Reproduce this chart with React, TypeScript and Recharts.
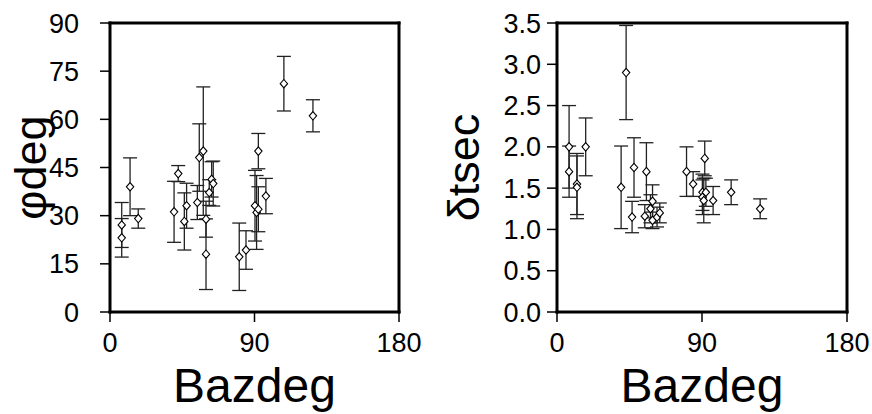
import React from 'react';
import { ScatterChart, Scatter, XAxis, YAxis, ErrorBar } from 'recharts';

const bazTicks = [0, 90, 180];
const phiTicks = [0, 15, 30, 45, 60, 75, 90];
const dtTicks = [0, 0.5, 1, 1.5, 2, 2.5, 3, 3.5];

// Left panel: fast-axis direction (deg) vs back azimuth
const phiBaz = [7.3, 7.3, 12.5, 17.6, 39.9, 42.5, 46.3, 47.7, 54.4, 55.6, 58.1, 59.8, 59.8, 61.8, 63.3, 64.3, 80.5, 84.7, 90.3, 91.3, 92.4, 92.4, 97.1, 108.3, 126.4];
const phiVal = [27.1, 23.1, 39.0, 29.1, 31.2, 43.1, 28.2, 33.1, 34.1, 48.1, 50.1, 28.9, 18.0, 37.2, 41.3, 40.0, 17.2, 19.3, 33.1, 31.0, 32.0, 50.1, 36.1, 71.1, 61.1];
const phiErr = [7, 6, 9, 3, 9.5, 2.5, 8.9, 7, 5.3, 10.5, 20, 5.6, 11, 4, 5.5, 7, 10.5, 6, 11, 11.5, 7, 5.5, 5.5, 8.5, 5];

// Right panel: delay time (s) vs back azimuth
const dtBaz = [7.5, 7.5, 12.4, 12.4, 17.8, 39.8, 42.9, 46.6, 47.8, 54.5, 55.5, 58.0, 59.3, 59.3, 62.1, 63.8, 80.4, 84.5, 90.3, 90.3, 91.1, 91.7, 92.4, 96.9, 108.1, 126.1];
const dtVal = [2.0, 1.7, 1.55, 1.51, 2.0, 1.51, 2.9, 1.15, 1.75, 1.16, 1.7, 1.25, 1.34, 1.11, 1.15, 1.2, 1.7, 1.55, 1.45, 1.39, 1.35, 1.86, 1.45, 1.35, 1.45, 1.25];
const dtErr = [0.5, 0.31, 0.37, 0.38, 0.35, 0.5, 0.57, 0.19, 0.36, 0.14, 0.35, 0.17, 0.2, 0.1, 0.12, 0.12, 0.3, 0.15, 0.22, 0.21, 0.27, 0.21, 0.17, 0.17, 0.15, 0.12];

const phiData = phiBaz.map((b, i) => ({ baz: b, v: phiVal[i], err: phiErr[i] }));
const dtData = dtBaz.map((b, i) => ({ baz: b, v: dtVal[i], err: dtErr[i] }));

const FONT = '"Liberation Sans", Arial, Helvetica, sans-serif';

const Diamond = (props: any) => {
  const { cx, cy } = props;
  if (cx == null || cy == null) return null;
  return (
    <path
      d={`M${cx},${cy - 4.2}L${cx + 3.7},${cy}L${cx},${cy + 4.2}L${cx - 3.7},${cy}Z`}
      fill="#fff"
      stroke="#000"
      strokeWidth={1.1}
    />
  );
};

const makeYLabel = (text: string, baseX: number) => (props: any) => {
  const vb = props.viewBox || {};
  const x = (vb.x || 0) + baseX;
  const y = (vb.y || 0) + (vb.height || 0) / 2;
  return (
    <text x={x} y={y} transform={`rotate(-90 ${x} ${y})`} textAnchor="middle" fontSize={45} fontFamily={FONT} fill="#000">
      {text}
    </text>
  );
};

const makeXLabel = (text: string) => (props: any) => {
  const vb = props.viewBox || {};
  const x = (vb.x || 0) + (vb.width || 0) / 2;
  const y = (vb.y || 0) + 90;
  return (
    <text x={x} y={y} textAnchor="middle" fontSize={48} fontFamily={FONT} fill="#000">
      {text}
    </text>
  );
};

const axisLine = { stroke: '#000', strokeWidth: 3, strokeLinecap: 'square' as const };
const tickLine = { stroke: '#000', strokeWidth: 1.5 };
const tickStyle = { fill: '#000', fontSize: 27, fontFamily: FONT };

type PanelProps = {
  data: { baz: number; v: number; err: number }[];
  yTicks: number[];
  yDomain: [number, number];
  yFmt: (v: number) => string;
  yLabel: string;
  leftW: number;
  rightW: number;
  yTickMargin: number;
  yLabelX: number;
};

const Panel = ({ data, yTicks, yDomain, yFmt, yLabel, leftW, rightW, yTickMargin, yLabelX }: PanelProps) => (
  <ScatterChart width={436} height={414} margin={{ top: 3, right: 0, bottom: 0, left: 0 }}>
    <XAxis
      xAxisId="b"
      dataKey="baz"
      type="number"
      domain={[0, 180]}
      ticks={bazTicks}
      interval={0}
      allowDataOverflow
      height={102}
      tickSize={10}
      tickMargin={11}
      axisLine={axisLine}
      tickLine={tickLine}
      tick={tickStyle}
      label={{ content: makeXLabel('Bazdeg') } as any}
    />
    <XAxis
      xAxisId="t"
      orientation="top"
      type="number"
      domain={[0, 180]}
      ticks={bazTicks}
      interval={0}
      allowDataOverflow
      height={20}
      tickSize={10}
      axisLine={axisLine}
      tickLine={tickLine}
      tick={false}
    />
    <YAxis
      yAxisId="l"
      dataKey="v"
      type="number"
      domain={yDomain}
      ticks={yTicks}
      interval={0}
      allowDataOverflow
      width={leftW}
      tickSize={10}
      tickMargin={yTickMargin}
      tickFormatter={yFmt}
      axisLine={axisLine}
      tickLine={tickLine}
      tick={tickStyle}
      label={{ content: makeYLabel(yLabel, yLabelX) } as any}
    />
    <YAxis
      yAxisId="r"
      orientation="right"
      type="number"
      domain={yDomain}
      ticks={yTicks}
      interval={0}
      allowDataOverflow
      width={rightW}
      tickSize={10}
      axisLine={axisLine}
      tickLine={tickLine}
      tick={false}
    />
    <Scatter xAxisId="b" yAxisId="l" data={data} dataKey="v" shape={Diamond} isAnimationActive={false}>
      <ErrorBar dataKey="err" direction="y" width={7} stroke="#222" strokeWidth={1.3} />
    </Scatter>
  </ScatterChart>
);

export default function App() {
  return (
    <div style={{ position: 'absolute', left: 0, top: 0, width: 872, height: 414, background: '#fff' }}>
      <div style={{ position: 'absolute', left: 0, top: 0 }}>
        <Panel
          data={phiData}
          yTicks={phiTicks}
          yDomain={[0, 90]}
          yFmt={(v) => String(v)}
          yLabel="φdeg"
          leftW={110}
          rightW={37}
          yTickMargin={21}
          yLabelX={46}
        />
      </div>
      <div style={{ position: 'absolute', left: 436, top: 0 }}>
        <Panel
          data={dtData}
          yTicks={dtTicks}
          yDomain={[0, 3.5]}
          yFmt={(v) => v.toFixed(1)}
          yLabel="δtsec"
          leftW={121}
          rightW={25}
          yTickMargin={6}
          yLabelX={43}
        />
      </div>
    </div>
  );
}
